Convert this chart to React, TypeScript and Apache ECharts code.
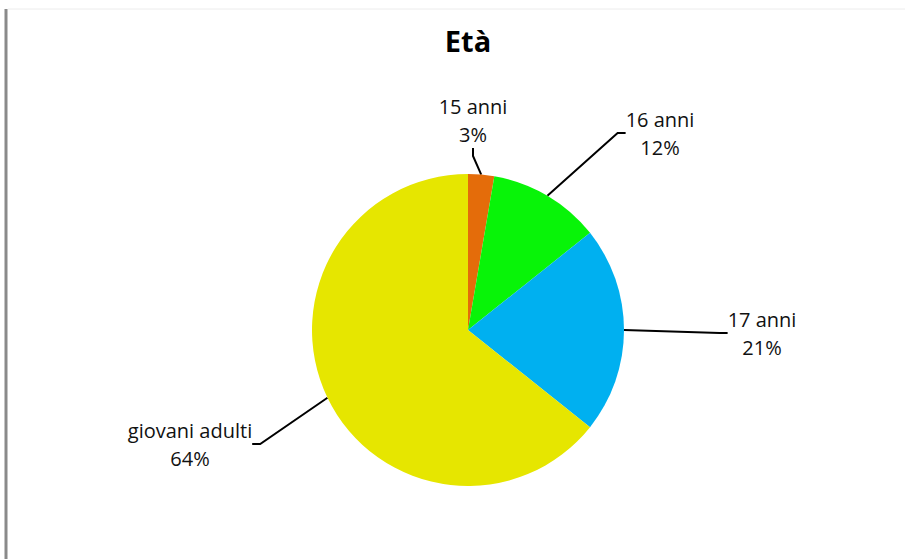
import React, { useEffect, useRef } from "react";
import * as echarts from "echarts";

const categories = ["15 anni", "16 anni", "17 anni", "giovani adulti"];
const values = [2.7, 11.6, 21.4, 64.3];
const colors = ["#E46C0A", "#08F408", "#00B0F0", "#E6E600"];
// label block centres (layout only)
const labelPos = [
  [473, 120],
  [660, 133],
  [762, 333],
  [190, 444],
];

export default function App() {
  const ref = useRef<HTMLDivElement>(null);
  useEffect(() => {
    document.body.style.margin = "0";
    const chart = echarts.init(ref.current!, undefined, { renderer: "svg" });
    chart.setOption({
      animation: false,
      backgroundColor: "#ffffff",
      title: {
        text: "Età",
        left: 468,
        textAlign: "center",
        top: 26,
        padding: 0,
        textStyle: {
          fontFamily: "Open Sans",
          fontWeight: "bold",
          fontSize: 29,
          color: "#000",
        },
      },
      graphic: [
        {
          type: "line",
          shape: { x1: 6, y1: 9, x2: 6, y2: 559 },
          style: { stroke: "#8a8a8a", lineWidth: 3 },
        },
        {
          type: "line",
          shape: { x1: 8, y1: 9, x2: 905, y2: 9 },
          style: { stroke: "#ececec", lineWidth: 1 },
        },
      ],
      series: [
        {
          type: "pie",
          center: [468, 330],
          radius: 156,
          startAngle: 90,
          clockwise: true,
          data: categories.map((c, i) => ({
            name: c,
            value: values[i],
            itemStyle: { color: colors[i] },
          })),
          label: {
            show: true,
            position: "outside",
            formatter: (p: any) => `${p.name}\n${Math.round(p.percent)}%`,
            fontFamily: "Open Sans",
            fontSize: 20,
            lineHeight: 28,
            color: "#111",
            align: "center",
          },
          labelLine: {
            show: true,
            length: 10,
            length2: 8,
            lineStyle: { color: "#000", width: 2 },
          },
          labelLayout: (params: any) => {
            const p = labelPos[params.dataIndex];
            return { x: p[0], y: p[1], align: "center", verticalAlign: "middle" };
          },
        },
      ],
    });
    return () => chart.dispose();
  }, []);
  return (
    <div
      ref={ref}
      style={{ position: "fixed", left: 0, top: 0, width: 910, height: 559 }}
    />
  );
}
